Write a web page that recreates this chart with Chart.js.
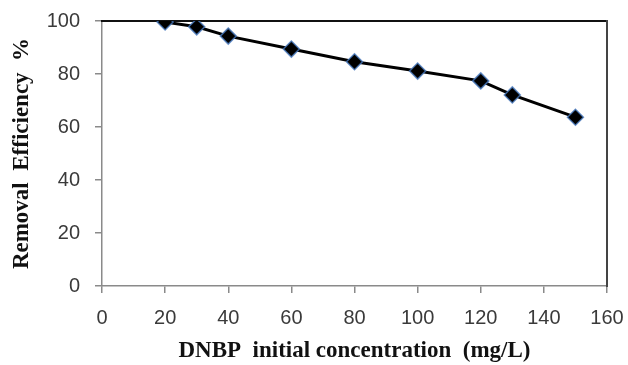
<!DOCTYPE html>
<html>
<head>
<meta charset="utf-8">
<script src="https://cdn.jsdelivr.net/npm/chart.js@4"></script>
<style>
  html, body { margin: 0; padding: 0; background: #fff; }
  #wrap { width: 628px; height: 365px; }
</style>
</head>
<body>
<div id="wrap"><canvas id="removalChart" width="628" height="365"></canvas></div>
<script>
const concentrations = [20, 30, 40, 60, 80, 100, 120, 130, 150];
const efficiency = [99.6, 97.8, 94.3, 89.4, 84.6, 81.1, 77.4, 72.1, 63.7];
const xTicks = [0, 20, 40, 60, 80, 100, 120, 140, 160];
const yTicks = [0, 20, 40, 60, 80, 100];

const tickFont = { family: "'Liberation Sans', 'Open Sans', sans-serif", size: 20 };
const titleFont = { family: "'Liberation Serif', 'DejaVu Serif', serif", size: 23, weight: 'bold' };

// no extra room for overflowing tick labels, keep the plot box where the reference has it
const noOverflow = s => { s.paddingLeft = 0; s.paddingRight = 0; s.paddingTop = 0; s.paddingBottom = 0; };

const removalCtx = document.getElementById('removalChart').getContext('2d');
const removalChart = new Chart(removalCtx, {
    type: 'scatter',
    data: {
        datasets: [{
            label: 'Removal efficiency',
            data: concentrations.map((c, i) => ({ x: c, y: efficiency[i] })),
            showLine: true,
            borderColor: '#000',
            borderWidth: 3,
            pointStyle: 'rectRot',
            pointRadius: 8,
            pointBackgroundColor: '#000',
            pointBorderColor: 'rgba(70, 120, 190, 0.8)',
            pointBorderWidth: 1.5
        }]
    },
    options: {
        responsive: false,
        animation: false,
        layout: { autoPadding: false, padding: { left: 8, right: 21, top: 21, bottom: 0 } },
        plugins: { legend: { display: false }, tooltip: { enabled: false } },
        scales: {
            x: {
                type: 'linear',
                min: 0,
                max: 160,
                afterBuildTicks: s => { s.ticks = xTicks.map(v => ({ value: v })); },
                afterFit: s => { s.height = 79; noOverflow(s); },
                border: { color: '#8a8a8a', width: 1.5 },
                grid: { display: true, drawOnChartArea: false, drawTicks: true, tickLength: 7, color: '#8a8a8a', lineWidth: 1.5 },
                ticks: { color: '#3a3a3a', font: tickFont, padding: 13, maxRotation: 0 },
                title: {
                    display: true,
                    text: 'DNBP  initial concentration  (mg/L)',
                    color: '#111',
                    font: titleFont,
                    padding: { top: 4, bottom: 0 }
                }
            },
            y: {
                min: 0,
                max: 100,
                afterBuildTicks: s => { s.ticks = yTicks.map(v => ({ value: v })); },
                afterFit: s => { s.width = 94; noOverflow(s); },
                border: { color: '#8a8a8a', width: 1.5 },
                grid: { display: true, drawOnChartArea: false, drawTicks: true, tickLength: 7, color: '#8a8a8a', lineWidth: 1.5 },
                ticks: { color: '#3a3a3a', font: tickFont, padding: 15 },
                title: {
                    display: true,
                    text: 'Removal  Efficiency  %',
                    color: '#111',
                    font: titleFont,
                    padding: { top: 0, bottom: 4 }
                }
            },
            xTop: {
                type: 'linear',
                position: 'top',
                min: 0,
                max: 160,
                afterFit: s => { s.height = 0; noOverflow(s); },
                border: { color: '#111', width: 2 },
                grid: { display: false },
                ticks: { display: false }
            },
            yRight: {
                position: 'right',
                min: 0,
                max: 100,
                afterFit: s => { s.width = 0; noOverflow(s); },
                border: { color: '#444', width: 2 },
                grid: { display: false },
                ticks: { display: false }
            }
        }
    }
});
</script>
</body>
</html>
